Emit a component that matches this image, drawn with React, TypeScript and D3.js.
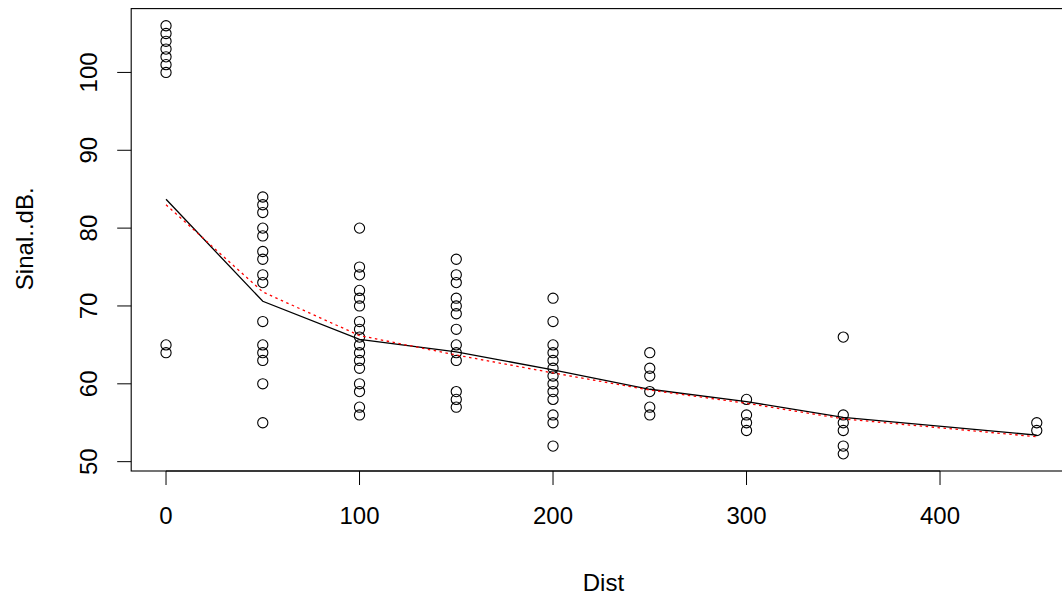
import React from "react";
import * as d3 from "d3";

// Measured signal (dB) grouped by distance
const distances = [0, 50, 100, 150, 200, 250, 300, 350, 450];
const signalAt0 = [106, 105, 104, 103, 102, 101, 100, 65, 64];
const signalAt50 = [84, 83, 82, 80, 79, 77, 76, 74, 73, 68, 65, 64, 63, 60, 55];
const signalAt100 = [80, 75, 74, 72, 71, 70, 68, 67, 66, 65, 64, 63, 62, 60, 59, 57, 56];
const signalAt150 = [76, 74, 73, 71, 70, 69, 67, 65, 64, 63, 59, 58, 57];
const signalAt200 = [71, 68, 65, 64, 63, 62, 61, 60, 59, 58, 56, 55, 52];
const signalAt250 = [64, 62, 61, 59, 57, 56];
const signalAt300 = [58, 56, 55, 54];
const signalAt350 = [66, 56, 55, 54, 52, 51];
const signalAt450 = [55, 54];
const signalGroups = [
  signalAt0, signalAt50, signalAt100, signalAt150, signalAt200,
  signalAt250, signalAt300, signalAt350, signalAt450,
];

// Fitted curves evaluated at each distance
const fitModel = [83.7, 70.6, 65.7, 64.1, 61.8, 59.3, 57.7, 55.7, 53.4];
const fitSmooth = [83.0, 71.8, 66.2, 63.7, 61.4, 59.2, 57.5, 55.5, 53.2];

const xTicks = [0, 100, 200, 300, 400];
const yTicks = [50, 60, 70, 80, 90, 100];

const W = 1062;
const H = 599;
const left = 131.2;
const right = 1071.6;
const top = 8.6;
const bottom = 471;
const fontSize = 24;
const tickLen = 14;

export default function App() {
  const x = d3.scaleLinear().domain([-18, 468]).range([left, right]);
  const y = d3.scaleLinear().domain([48.8, 108.2]).range([bottom, top]);

  const points = distances.flatMap((d, i) =>
    signalGroups[i].map((s) => ({ d, s }))
  );

  const line = d3
    .line<number>()
    .x((_, i) => x(distances[i]))
    .y((v) => y(v));

  const font = "'Liberation Sans', Arial, sans-serif";

  return (
    <svg
      width={W}
      height={H}
      style={{ position: "absolute", left: 0, top: 0, background: "#fff" }}
      fontFamily={font}
    >
      <rect x={0} y={0} width={W} height={H} fill="#fff" />
      {points.map((p, i) => (
        <circle
          key={i}
          cx={x(p.d)}
          cy={y(p.s)}
          r={5.1}
          fill="none"
          stroke="#000"
          strokeWidth={1.1}
        />
      ))}
      <path d={line(fitModel) ?? ""} fill="none" stroke="#000" strokeWidth={1.3} />
      <path
        d={line(fitSmooth) ?? ""}
        fill="none"
        stroke="#ff0000"
        strokeWidth={1.3}
        strokeDasharray="2.5,3.5"
      />
      <rect
        x={left}
        y={top}
        width={right - left}
        height={bottom - top}
        fill="none"
        stroke="#000"
        strokeWidth={1.1}
      />
      {/* x axis */}
      <line x1={x(0)} x2={x(400)} y1={bottom} y2={bottom} stroke="#000" />
      {xTicks.map((t) => (
        <g key={t}>
          <line x1={x(t)} x2={x(t)} y1={bottom} y2={bottom + tickLen} stroke="#000" />
          <text x={x(t)} y={524} textAnchor="middle" fontSize={fontSize}>
            {t}
          </text>
        </g>
      ))}
      {/* y axis */}
      {yTicks.map((t) => (
        <g key={t}>
          <line x1={left} x2={left - tickLen} y1={y(t)} y2={y(t)} stroke="#000" />
          <text
            transform={`translate(97,${y(t)}) rotate(-90)`}
            textAnchor="middle"
            fontSize={fontSize}
          >
            {t}
          </text>
        </g>
      ))}
      <text x={(left + right) / 2 + 2} y={591} textAnchor="middle" fontSize={fontSize}>
        Dist
      </text>
      <text
        transform={`translate(33,${(top + bottom) / 2 - 1}) rotate(-90)`}
        textAnchor="middle"
        fontSize={fontSize}
      >
        Sinal..dB.
      </text>
    </svg>
  );
}
